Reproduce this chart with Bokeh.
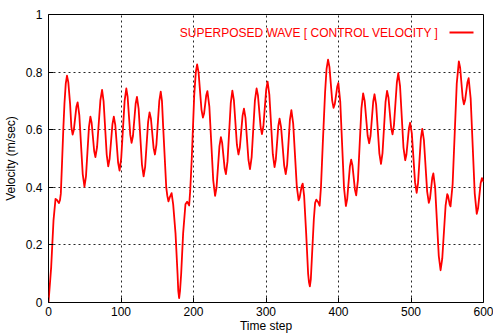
from bokeh.plotting import figure
from bokeh.models import Range1d, FixedTicker, Label, BoxAnnotation
from bokeh.embed import file_html
from bokeh.resources import INLINE

# ---- data ----
time = [0, 3.7, 6.9, 9.7, 12, 14.3, 15.8, 17, 18.8, 20.4, 22, 23.8, 25.5, 27.3, 29.8, 31.5, 33.3, 35, 38.5, 40.2,
        42.5, 47.2, 49.6, 51.7, 55.8, 57.8, 59.5, 63, 64.7, 67, 71.6, 73.9, 76, 80.3, 82.4, 84.3, 88.2, 90.1, 92.1, 96, 98,
        100.3, 105, 107.3, 109.1, 112.8, 114.6, 116.5, 120.2, 122, 124.3, 128.9, 131.2, 133.3, 137.4, 139.4, 141.3, 145, 146.8, 148.8, 152.8, 154.8,
        156.5, 158.2, 162.4, 163.9, 165.4, 167.2, 169.8, 172, 175.2, 178, 179, 180.2, 181.4, 183, 185.7, 188.9, 191.2, 194, 195.5, 197.6, 201, 203.2, 205,
        207, 211, 213, 214.6, 217.6, 219.2, 221.9, 227.2, 229.8, 231.8, 235.8, 237.8, 239.5, 243, 244.7, 246.9, 251.4, 253.6, 255.7, 259.9, 262,
        263.9, 267.7, 269.6, 271.7, 275.8, 277.9, 280.2, 284.7, 287, 288.9, 292.6, 294.4, 296.4, 300.3, 302.2, 304.6, 309.4, 311.8, 313.5, 317, 318.7,
        320.8, 325.1, 327.2, 329.2, 333, 335, 337.5, 342.5, 345, 346.4, 349.2, 350.6, 352.6, 355.4, 358.1, 359.3, 360.5, 361.8, 363.2, 366, 367.7, 369.3, 371.6, 374,
        375.8, 378.3, 381.5, 383.5, 385.6, 387.5, 391.3, 393.2, 394.9, 398.2, 399.8, 402.4, 407.6, 410.2, 412, 415.7, 417.5, 419.2, 422.7, 424.4,
        426.8, 431.6, 434, 436.1, 440.2, 442.3, 444.2, 447.9, 449.7, 451.9, 456.4, 458.6, 460.7, 464.9, 467, 468.9, 472.6, 474.5, 476.5, 480.5, 482.5,
        484.9, 489.6, 492, 493.7, 497.1, 498.8, 501.1, 505.6, 507.8, 509.7, 513.6, 515.5, 517.8, 522.3, 524.6, 526.2, 529.3, 530.8, 533.3, 538.3, 540.8,
        543.1, 547.7, 550, 551.1, 553.4, 554.5, 557.4, 563.1, 566, 567.8, 571.3, 573, 574.6, 577.9, 579.5, 582.3, 587.9, 590.7, 592.5, 596, 597.8, 599, 600]
velocity = [0, 0.123, 0.285, 0.36, 0.355, 0.345, 0.355, 0.378, 0.493, 0.6, 0.69, 0.76, 0.788, 0.765, 0.689, 0.61, 0.583, 0.6, 0.68, 0.695,
            0.651, 0.446, 0.402, 0.438, 0.609, 0.645, 0.624, 0.526, 0.505, 0.54, 0.703, 0.738, 0.698, 0.513, 0.473, 0.499, 0.619, 0.645, 0.617, 0.486, 0.458,
            0.501, 0.70, 0.743, 0.715, 0.582, 0.554, 0.578, 0.69, 0.714, 0.673, 0.479, 0.438, 0.471, 0.627, 0.66, 0.638, 0.536, 0.514, 0.547, 0.699, 0.732,
            0.70, 0.608, 0.40, 0.37, 0.351, 0.365, 0.38, 0.34, 0.24, 0.10, 0.04, 0.015, 0.04, 0.10, 0.24, 0.341, 0.35, 0.337, 0.39, 0.50, 0.72, 0.80, 0.827,
            0.799, 0.67, 0.642, 0.656, 0.72, 0.734, 0.679, 0.425, 0.37, 0.40, 0.543, 0.574, 0.555, 0.465, 0.446, 0.49, 0.692, 0.736, 0.703, 0.547, 0.514,
            0.538, 0.649, 0.673, 0.641, 0.495, 0.463, 0.505, 0.701, 0.743, 0.719, 0.609, 0.585, 0.612, 0.74, 0.767, 0.722, 0.515, 0.47, 0.495, 0.613, 0.638,
            0.609, 0.475, 0.446, 0.479, 0.635, 0.668, 0.621, 0.402, 0.355, 0.364, 0.404, 0.413, 0.37, 0.24, 0.10, 0.07, 0.056, 0.08, 0.15, 0.29, 0.345, 0.357, 0.35, 0.336,
            0.40, 0.55, 0.73, 0.81, 0.843, 0.818, 0.701, 0.676, 0.689, 0.749, 0.762, 0.698, 0.399, 0.335, 0.359, 0.472, 0.496, 0.477, 0.391, 0.372,
            0.425, 0.673, 0.726, 0.70, 0.579, 0.553, 0.579, 0.698, 0.723, 0.687, 0.517, 0.481, 0.519, 0.697, 0.735, 0.712, 0.607, 0.584, 0.616, 0.764, 0.796,
            0.751, 0.539, 0.494, 0.514, 0.604, 0.624, 0.588, 0.417, 0.381, 0.414, 0.57, 0.603, 0.564, 0.385, 0.346, 0.361, 0.433, 0.448, 0.398, 0.162, 0.112,
            0.152, 0.336, 0.376, 0.37, 0.34, 0.334, 0.41, 0.76, 0.837, 0.815, 0.71, 0.688, 0.702, 0.765, 0.779, 0.708, 0.379, 0.308, 0.327, 0.413, 0.432, 0.428, 0.418]

x_ticks = [0, 100, 200, 300, 400, 500, 600]
y_ticks = [0, 0.2, 0.4, 0.6, 0.8, 1]
y_tick_labels = ["0", "0.2", "0.4", "0.6", "0.8", "1"]
series_name = "SUPERPOSED WAVE [ CONTROL VELOCITY ]"
x_title = "Time step"
y_title = "Velocity (m/sec)"

FONT = "Liberation Sans"
RED = "#ff0000"

p = figure(width=493, height=336, output_backend="svg", toolbar_location=None,
           x_range=Range1d(0, 600), y_range=Range1d(0, 1),
           min_border_left=47, min_border_right=10, min_border_top=14,
           min_border_bottom=34, background_fill_color="white",
           border_fill_color="white")

p.outline_line_color = "black"
p.outline_line_width = 1

for ax in (p.xaxis[0], p.yaxis[0]):
    ax.axis_line_color = None
    ax.major_tick_in = 5
    ax.major_tick_out = 0
    ax.minor_tick_line_color = None
    ax.major_tick_line_color = "black"
    ax.major_label_text_font = FONT
    ax.major_label_text_font_size = "12px"
    ax.major_label_text_color = "black"
    ax.axis_label_text_font = FONT
    ax.axis_label_text_font_size = "12px"
    ax.axis_label_text_font_style = "normal"
    ax.axis_label_text_color = "black"

p.xaxis.ticker = FixedTicker(ticks=x_ticks)
p.yaxis.ticker = FixedTicker(ticks=y_ticks)
p.yaxis.major_label_overrides = {t: s for t, s in zip(y_ticks, y_tick_labels)}
p.xaxis.axis_label = x_title
p.yaxis.axis_label = y_title
p.xaxis.major_label_standoff = 4
p.xaxis.axis_label_standoff = 0
p.yaxis.major_label_standoff = 6
p.yaxis.axis_label_standoff = 5

for g, tk in ((p.xgrid[0], x_ticks), (p.ygrid[0], y_ticks)):
    g.ticker = FixedTicker(ticks=tk)
    g.grid_line_color = "black"
    g.grid_line_dash = "2 3"
    g.grid_line_width = 1
    g.grid_line_alpha = 0.85

p.line(time, velocity, line_color=RED, line_width=1.8, line_join="round")

# legend: text on the left, line sample on the right (gnuplot style)
p.add_layout(Label(x=390, y=270, x_units="screen", y_units="screen", text=series_name,
                   text_align="right", text_baseline="middle", text_color=RED,
                   text_font=FONT, text_font_size="12px"))
p.add_layout(BoxAnnotation(left=401, right=425, bottom=269.1, top=270.9,
                           left_units="screen", right_units="screen",
                           bottom_units="screen", top_units="screen",
                           fill_color=RED, fill_alpha=1, line_color=None))

open("out.html", "w").write(file_html(p, INLINE))
